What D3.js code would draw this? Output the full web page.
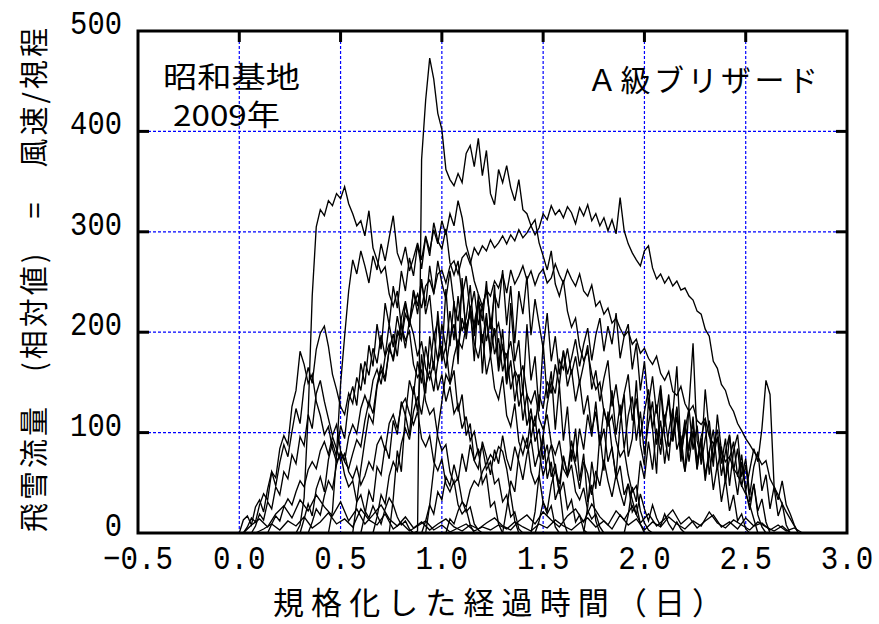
<!DOCTYPE html>
<html lang="ja">
<head>
    <meta charset="UTF-8">
    <title>A級ブリザード 飛雪流量</title>
    <script src="https://cdnjs.cloudflare.com/ajax/libs/d3/7.8.5/d3.min.js"></script>
    <style>
        * { margin: 0; padding: 0; }
        body { background: #fff; width: 879px; height: 624px; overflow: hidden; }
        .tick-label { font-family: "Liberation Mono", "DejaVu Sans Mono", monospace; font-size: 33px; fill: #000; }
        .jp { font-family: "Noto Sans CJK JP", sans-serif; fill: #000; }
        .grid { stroke: #0000ff; stroke-width: 1.2; stroke-dasharray: 3,2; fill: none; }
        .series { fill: none; stroke: #000; stroke-width: 1.35; stroke-linejoin: miter; }
    </style>
</head>
<body>
<svg id="chart" width="879" height="624"></svg>
<script>
    // axis ticks
    const xTicks = [-0.5, 0.0, 0.5, 1.0, 1.5, 2.0, 2.5, 3.0];
    const yTicks = [0, 100, 200, 300, 400, 500];
    const xGrid = [0.0, 0.5, 1.0, 1.5, 2.0, 2.5];
    const yGrid = [100, 200, 300, 400];

    // each blizzard: start time (normalized days), sampling step, flux values
    const starts = [0.86, 0.28, 0.00, 0.02, 0.30, 0.44, 0.56, 0.92, 0.60, 1.30,
                    1.46, 0.02, 0.08, 0.14, 0.34, 1.02, 1.44, 1.90, 0.06, 0.66,
                    1.70, 0.74, 0.90];
    const steps  = [0.02, 0.02, 0.02, 0.02, 0.02, 0.02, 0.02, 0.02, 0.02, 0.02,
                    0.02, 0.04, 0.04, 0.02, 0.02, 0.02, 0.02, 0.02, 0.02, 0.02,
                    0.02, 0.02, 0.02];

    const s01 = [0, 2, 372, 431, 473, 452, 418, 402, 362, 352, 346, 358, 349, 378, 386, 365, 393, 356, 381, 338,
                 327, 362, 349, 366, 344, 331, 352, 322, 318, 306, 312, 289, 276, 262, 281, 248, 236, 252, 221, 205,
                 214, 186, 172, 181, 158, 143, 150, 121, 108, 117, 92, 76, 83, 58, 41, 47, 22, 10, 3, 0];
    const s02 = [0, 8, 35, 118, 236, 305, 322, 316, 331, 326, 338, 333, 345, 328, 318, 306, 311, 296, 321, 284,
                 272, 259, 265, 238, 226, 241, 206, 192, 201, 168, 155, 162, 131, 118, 124, 96, 82, 88, 61, 49,
                 55, 32, 21, 26, 9, 3, 0];
    const s03 = [0, 13, 17, 8, 26, 33, 21, 44, 61, 47, 70, 88, 76, 101, 124, 109, 146, 165, 149, 183,
                 199, 206, 186, 158, 143, 126, 118, 139, 129, 155, 142, 171, 157, 184, 169, 197, 176, 208, 185, 216,
                 194, 229, 205, 241, 218, 249, 226, 266, 238, 271, 249, 233, 261, 228, 211, 242, 203, 219, 189, 174,
                 198, 158, 177, 144, 133, 156, 117, 106, 129, 91, 78, 95, 61, 49, 57, 30, 19, 27, 6, 0];
    const s04 = [0, 6, 15, 11, 28, 39, 33, 61, 55, 84, 97, 88, 126, 142, 181, 168, 149, 158, 131, 117,
                 98, 106, 84, 71, 79, 58, 46, 52, 31, 38, 22, 15, 27, 18, 9, 24, 35, 28, 16, 8, 12, 4, 0];
    const s05 = [0, 14, 29, 17, 44, 56, 41, 73, 90, 76, 107, 94, 131, 146, 127, 169, 148, 187, 166, 208,
                 183, 229, 207, 246, 224, 261, 241, 274, 256, 287, 263, 295, 276, 309, 291, 283, 303, 269, 257, 271,
                 236, 256, 221, 241, 207, 226, 191, 211, 178, 194, 161, 179, 143, 161, 126, 142, 107, 124, 91, 104,
                 73, 88, 56, 69, 39, 51, 24, 33, 11, 18, 3, 0];
    const s06 = [0, 22, 78, 148, 196, 241, 272, 258, 281, 266, 249, 276, 262, 288, 271, 294, 316, 279, 268, 285,
                 261, 274, 289, 272, 296, 281, 302, 288, 311, 297, 318, 306, 331, 314, 287, 272, 251, 238, 226, 241,
                 212, 198, 209, 184, 176, 191, 162, 153, 167, 138, 129, 142, 114, 103, 118, 89, 78, 92, 64, 56,
                 68, 41, 33, 45, 22, 14, 19, 6, 0];
    const s07 = [0, 31, 64, 92, 118, 109, 146, 162, 151, 183, 174, 201, 192, 218, 209, 226, 238, 224, 246, 252,
                 239, 258, 262, 249, 266, 271, 258, 274, 279, 268, 284, 277, 286, 281, 292, 284, 289, 296, 288, 297,
                 291, 302, 294, 299, 306, 297, 304, 318, 312, 326, 317, 322, 314, 325, 319, 308, 324, 316, 327, 311,
                 318, 306, 314, 301, 312, 298, 334, 301, 288, 279, 272, 266, 281, 286, 264, 253, 258, 249, 255, 246,
                 251, 242, 244, 236, 232, 221, 218, 203, 196, 171, 164, 148, 142, 128, 121, 109, 102, 94, 88, 81,
                 76, 68, 72, 54, 46, 38, 29, 21, 14, 7, 0];
    const s08 = [0, 28, 64, 102, 131, 158, 149, 176, 192, 184, 206, 218, 209, 231, 224, 242, 236, 251, 244, 258,
                 239, 262, 248, 256, 266, 252, 261, 247, 258, 263, 249, 254, 268, 257, 249, 262, 253, 246, 258, 241,
                 236, 247, 226, 231, 218, 224, 209, 214, 204, 196, 201, 188, 193, 179, 184, 174, 168, 176, 159, 152,
                 161, 141, 137, 146, 129, 121, 127, 112, 108, 114, 96, 89, 94, 82, 71, 76, 64, 58, 47, 39,
                 28, 14, 0];
    const s09 = [0, 18, 42, 31, 66, 58, 87, 74, 112, 98, 131, 117, 152, 138, 171, 149, 186, 163, 198, 171,
                 208, 184, 221, 192, 236, 201, 214, 247, 196, 232, 211, 251, 203, 238, 224, 262, 207, 246, 189, 241,
                 218, 256, 197, 233, 208, 184, 219, 171, 196, 158, 181, 146, 163, 131, 152, 118, 137, 102, 121, 88,
                 104, 71, 86, 54, 67, 38, 49, 21, 28, 9, 0];
    const s10 = [0, 24, 52, 41, 78, 96, 84, 117, 106, 138, 124, 151, 139, 168, 147, 182, 158, 174, 193, 166,
                 188, 204, 172, 197, 214, 181, 206, 188, 219, 174, 196, 208, 163, 189, 142, 171, 128, 156, 119, 147,
                 106, 138, 92, 126, 84, 113, 71, 102, 63, 94, 52, 81, 43, 68, 31, 54, 22, 38, 12, 19, 4, 0];
    const s11 = [0, 12, 31, 22, 48, 63, 41, 77, 58, 92, 71, 104, 83, 118, 96, 131, 87, 124, 106, 142,
                 98, 128, 84, 117, 136, 92, 121, 78, 109, 131, 88, 112, 69, 101, 124, 83, 97, 61, 88, 109,
                 72, 94, 58, 81, 103, 64, 86, 52, 74, 91, 56, 78, 42, 63, 84, 71, 104, 152, 138, 47,
                 33, 52, 28, 19, 8, 0];
    const s12 = [0, 8, 14, 6, 19, 27, 15, 33, 22, 38, 26, 17, 31, 12, 24, 9, 18, 28, 14, 7,
                 16, 5, 11, 3, 9, 14, 6, 2, 8, 4, 10, 15, 7, 3, 12, 18, 9, 21, 13, 6,
                 17, 24, 11, 29, 16, 8, 22, 13, 27, 10, 19, 7, 14, 23, 9, 16, 5, 12, 18, 6,
                 11, 4, 15, 7, 10, 3, 8, 2, 5, 0];
    const s13 = [0, 4, 9, 3, 12, 7, 16, 5, 11, 20, 9, 14, 6, 24, 13, 8, 19, 4, 10, 2,
                 7, 12, 3, 8, 1, 5, 9, 2, 6, 3, 8, 4, 11, 6, 2, 9, 5, 13, 7, 3,
                 10, 15, 6, 12, 4, 18, 8, 14, 3, 11, 6, 16, 9, 4, 12, 7, 21, 10, 5, 13,
                 8, 3, 11, 6, 2, 7, 0];
    const s14 = [0, 9, 17, 12, 26, 34, 28, 41, 52, 46, 63, 71, 64, 82, 91, 78, 96, 84, 72, 79,
                 61, 54, 66, 48, 57, 71, 63, 88, 96, 82, 109, 118, 104, 127, 134, 119, 108, 121, 94, 86,
                 97, 71, 62, 74, 49, 41, 52, 28, 19, 24, 8, 0];
    const s15 = [0, 11, 24, 18, 37, 52, 44, 68, 81, 72, 96, 108, 99, 124, 137, 126, 152, 163, 148, 176,
                 188, 171, 196, 207, 184, 212, 198, 176, 191, 164, 153, 171, 142, 158, 131, 146, 119, 128, 104, 116,
                 92, 101, 78, 86, 63, 71, 49, 54, 31, 38, 16, 21, 4, 0];
    const s16 = [0, 14, 9, 22, 31, 26, 43, 52, 47, 61, 69, 78, 72, 86, 81, 64, 38, 12, 0];
    const s17 = [0, 21, 58, 96, 128, 151, 139, 172, 163, 184, 158, 176, 149, 168, 187, 143, 162, 131, 154, 172,
                 126, 148, 117, 139, 158, 112, 134, 96, 121, 143, 104, 128, 88, 113, 132, 91, 116, 79, 102, 124,
                 83, 107, 68, 94, 112, 74, 96, 57, 81, 98, 62, 84, 46, 68, 31, 49, 22, 34, 11, 0];
    const s18 = [0, 18, 46, 31, 72, 54, 91, 63, 104, 78, 118, 86, 97, 124, 71, 108, 82, 116, 64, 96,
                 112, 58, 87, 103, 69, 94, 47, 82, 98, 56, 74, 38, 66, 81, 42, 58, 24, 46, 17, 29, 8, 0];
    const s19 = [0, 7, 19, 13, 31, 24, 46, 38, 61, 54, 78, 69, 96, 87, 118, 104, 139, 152, 131, 114,
                 97, 108, 82, 71, 64, 79, 93, 86, 112, 131, 119, 148, 167, 154, 183, 198, 176, 214, 231, 209,
                 242, 226, 253, 218, 237, 194, 212, 171, 186, 148, 162, 121, 138, 97, 109, 72, 84, 49, 58, 26,
                 31, 9, 0];
    const s20 = [0, 16, 38, 29, 57, 71, 62, 89, 104, 93, 121, 136, 118, 147, 162, 141, 171, 186, 164, 193,
                 208, 182, 214, 197, 226, 203, 231, 189, 219, 176, 204, 161, 188, 149, 172, 131, 158, 112, 139, 94,
                 117, 76, 98, 54, 71, 33, 46, 12, 0];
    const s21 = [0, 26, 71, 44, 98, 62, 121, 83, 57, 109, 138, 76, 94, 152, 88, 67, 131, 104, 59, 143,
                 96, 72, 118, 166, 84, 61, 127, 189, 92, 74, 143, 101, 66, 118, 82, 51, 97, 64, 38, 71,
                 42, 23, 49, 18, 6, 0];
    const s22 = [0, 34, 82, 61, 118, 97, 146, 121, 178, 139, 196, 162, 221, 174, 243, 186, 231, 168, 254, 193,
                 226, 171, 238, 159, 214, 182, 247, 166, 203, 148, 229, 171, 192, 137, 208, 152, 176, 121, 189, 134,
                 161, 103, 148, 92, 126, 71, 104, 52, 79, 31, 48, 12, 0];
    const s23 = [0, 12, 28, 19, 41, 33, 56, 47, 68, 52, 79, 61, 88, 72, 64, 91, 76, 58, 83, 69,
                 97, 74, 62, 86, 71, 53, 78, 94, 66, 81, 57, 72, 88, 63, 49, 76, 58, 83, 67, 44,
                 71, 59, 38, 62, 47, 73, 52, 36, 58, 41, 27, 49, 33, 18, 39, 24, 12, 28, 15, 7,
                 19, 9, 3, 11, 4, 0];

    const allSeries = [s01, s02, s03, s04, s05, s06, s07, s08, s09, s10,
                       s11, s12, s13, s14, s15, s16, s17, s18, s19, s20,
                       s21, s22, s23];

    const svg = d3.select('#chart');
    const plotL = 138, plotR = 847, plotT = 31, plotB = 533;

    const x = d3.scaleLinear().domain([-0.5, 3.0]).range([plotL, plotR]);
    const y = d3.scaleLinear().domain([0, 500]).range([plotB, plotT]);

    // grid
    svg.append('g').selectAll('line').data(xGrid).enter().append('line')
        .attr('class', 'grid')
        .attr('x1', d => x(d)).attr('x2', d => x(d))
        .attr('y1', plotT).attr('y2', plotB);
    svg.append('g').selectAll('line').data(yGrid).enter().append('line')
        .attr('class', 'grid')
        .attr('x1', plotL).attr('x2', plotR)
        .attr('y1', d => y(d)).attr('y2', d => y(d));

    // series
    const line = d3.line().x(d => x(d[0])).y(d => y(d[1]));
    const pts = allSeries.map((vals, i) => vals.map((v, j) => [starts[i] + j * steps[i], v]));
    svg.append('g').selectAll('path').data(pts).enter().append('path')
        .attr('class', 'series')
        .attr('d', line);

    // frame
    svg.append('rect')
        .attr('x', plotL).attr('y', plotT)
        .attr('width', plotR - plotL).attr('height', plotB - plotT)
        .attr('fill', 'none').attr('stroke', '#000').attr('stroke-width', 3);

    // inner ticks: left, right, top
    const tickLen = 11;
    const ticks = svg.append('g').attr('stroke', '#000').attr('stroke-width', 3);
    yGrid.forEach(v => {
        ticks.append('line').attr('x1', plotL).attr('x2', plotL + tickLen).attr('y1', y(v)).attr('y2', y(v));
        ticks.append('line').attr('x1', plotR).attr('x2', plotR - tickLen).attr('y1', y(v)).attr('y2', y(v));
    });
    xGrid.forEach(v => {
        ticks.append('line').attr('x1', x(v)).attr('x2', x(v)).attr('y1', plotT).attr('y2', plotT + tickLen);
    });

    // tick labels
    svg.append('g').selectAll('text').data(yTicks).enter().append('text')
        .attr('class', 'tick-label')
        .attr('text-anchor', 'end')
        .attr('x', 122)
        .attr('y', d => y(d) + 3)
        .attr('textLength', d => String(d).length * 17.3)
        .attr('lengthAdjust', 'spacingAndGlyphs')
        .text(d => d);

    svg.append('g').selectAll('text').data(xTicks).enter().append('text')
        .attr('class', 'tick-label')
        .attr('text-anchor', 'middle')
        .attr('x', d => x(d))
        .attr('y', 569)
        .attr('textLength', d => d3.format('.1f')(d).length * 17.5)
        .attr('lengthAdjust', 'spacingAndGlyphs')
        .text(d => d3.format('.1f')(d).replace('-', '−'));

    // annotations
    svg.append('text').attr('class', 'jp')
        .attr('x', 163).attr('y', 88)
        .attr('font-size', 29)
        .attr('textLength', 137).attr('lengthAdjust', 'spacingAndGlyphs')
        .text('昭和基地');
    svg.append('text').attr('class', 'jp')
        .attr('x', 173).attr('y', 126)
        .attr('font-size', 29)
        .attr('textLength', 107).attr('lengthAdjust', 'spacingAndGlyphs')
        .text('2009年');
    svg.append('text').attr('class', 'jp')
        .attr('x', 587).attr('y', 91)
        .attr('font-size', 30)
        .attr('textLength', 231).attr('lengthAdjust', 'spacing')
        .text('Ａ級ブリザード');

    // axis titles
    svg.append('text').attr('class', 'jp')
        .attr('transform', 'translate(32,280) rotate(-90)')
        .attr('text-anchor', 'middle')
        .attr('dominant-baseline', 'central')
        .attr('font-size', 29)
        .attr('textLength', 504).attr('lengthAdjust', 'spacing')
        .text('飛雪流量　(相対値)　=　風速/視程');

    svg.append('text').attr('class', 'jp')
        .attr('x', 498).attr('y', 614)
        .attr('text-anchor', 'middle')
        .attr('font-size', 31)
        .attr('textLength', 450).attr('lengthAdjust', 'spacing')
        .text('規格化した経過時間（日）');
</script>
</body>
</html>
